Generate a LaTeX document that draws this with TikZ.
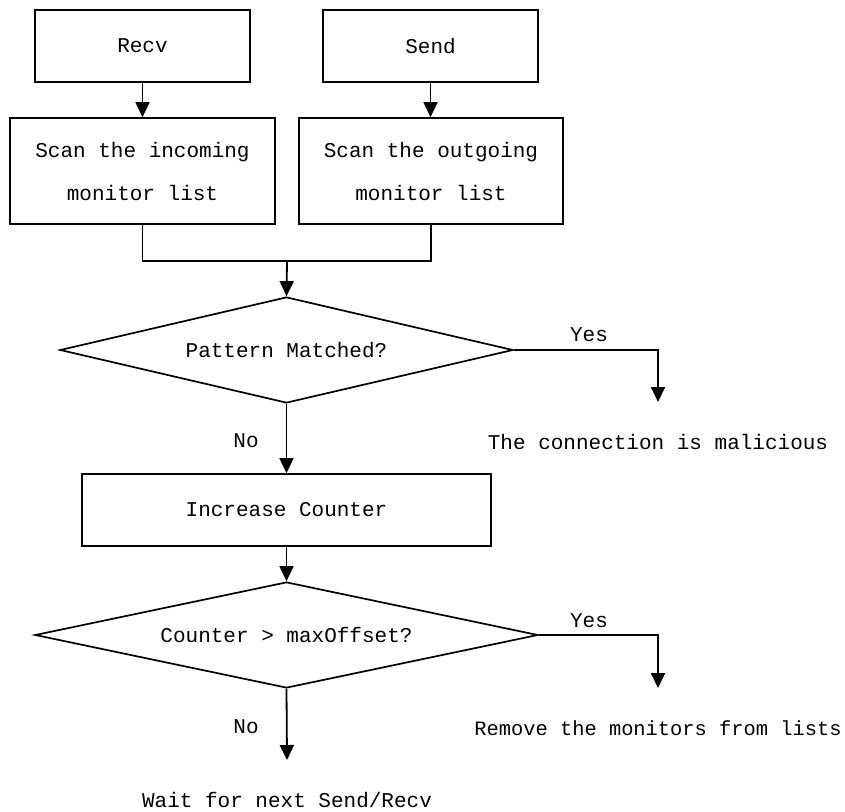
\documentclass[tikz,border=0pt]{standalone}
\usepackage{fontspec}
\setmonofont{Liberation Mono}
\usetikzlibrary{shapes.geometric,arrows.meta}

\begin{document}
\begin{tikzpicture}[
    x=1pt, y=-1pt,
    font=\ttfamily\fontsize{21}{43}\selectfont,
    box/.style={draw=black, line width=1.7pt, inner sep=0pt, align=center},
    decision/.style={diamond, draw=black, line width=1.7pt, inner sep=0pt, aspect=4.5, minimum height=106pt},
    arrow/.style={-{Triangle[length=15pt,width=14pt]}, line width=1.8pt},
    line/.style={line width=1.8pt}
]
\useasboundingbox (0,0) rectangle (845,811);

\node[box, minimum width=215pt, minimum height=72pt] (recv) at (142.5,46) {Recv};
\node[box, minimum width=215pt, minimum height=72pt] (send) at (430.5,46) {Send};
\node[box, minimum width=265pt, minimum height=106pt] (scanin) at (142.5,171) {Scan the incoming\\monitor list};
\node[box, minimum width=264pt, minimum height=106pt] (scanout) at (431,171) {Scan the outgoing\\monitor list};
\node[decision, minimum width=453pt] (match) at (286.5,350) {Pattern Matched?};
\node[box, minimum width=409pt, minimum height=72pt] (counter) at (286.5,510) {Increase Counter};
\node[decision, minimum width=503pt] (offset) at (286.5,635) {Counter > maxOffset?};

\node (malicious) at (658,442) {The connection is malicious};
\node[font=\ttfamily\fontsize{20.4}{24}\selectfont, inner sep=0pt] (remove) at (658,728) {Remove the monitors from lists};
\node (waitnext) at (287,800) {Wait for next Send/Recv};

\node (yesA) at (589,335) {Yes};
\node (yesB) at (589,621) {Yes};
\node (noA) at (246,441) {No};
\node (noB) at (246,727) {No};

\coordinate (join) at (287,261);
\coordinate (endA) at (658,402);
\coordinate (endB) at (658,688);
\coordinate (endC) at (287,760);

\draw[arrow] (recv) -- (scanin);
\draw[arrow] (send) -- (send |- scanout.north);
\draw[line] (scanin.south) -- (scanin.south |- join) -- (scanout.south |- join) -- (scanout.south);
\draw[arrow] (join) -- (match.north);
\draw[arrow] (match.east) -| (endA);
\draw[arrow] (match.south) -- (counter.north);
\draw[arrow] (counter.south) -- (offset.north);
\draw[arrow] (offset.east) -| (endB);
\draw[arrow] (offset.south) -- (endC);

\end{tikzpicture}
\end{document}
